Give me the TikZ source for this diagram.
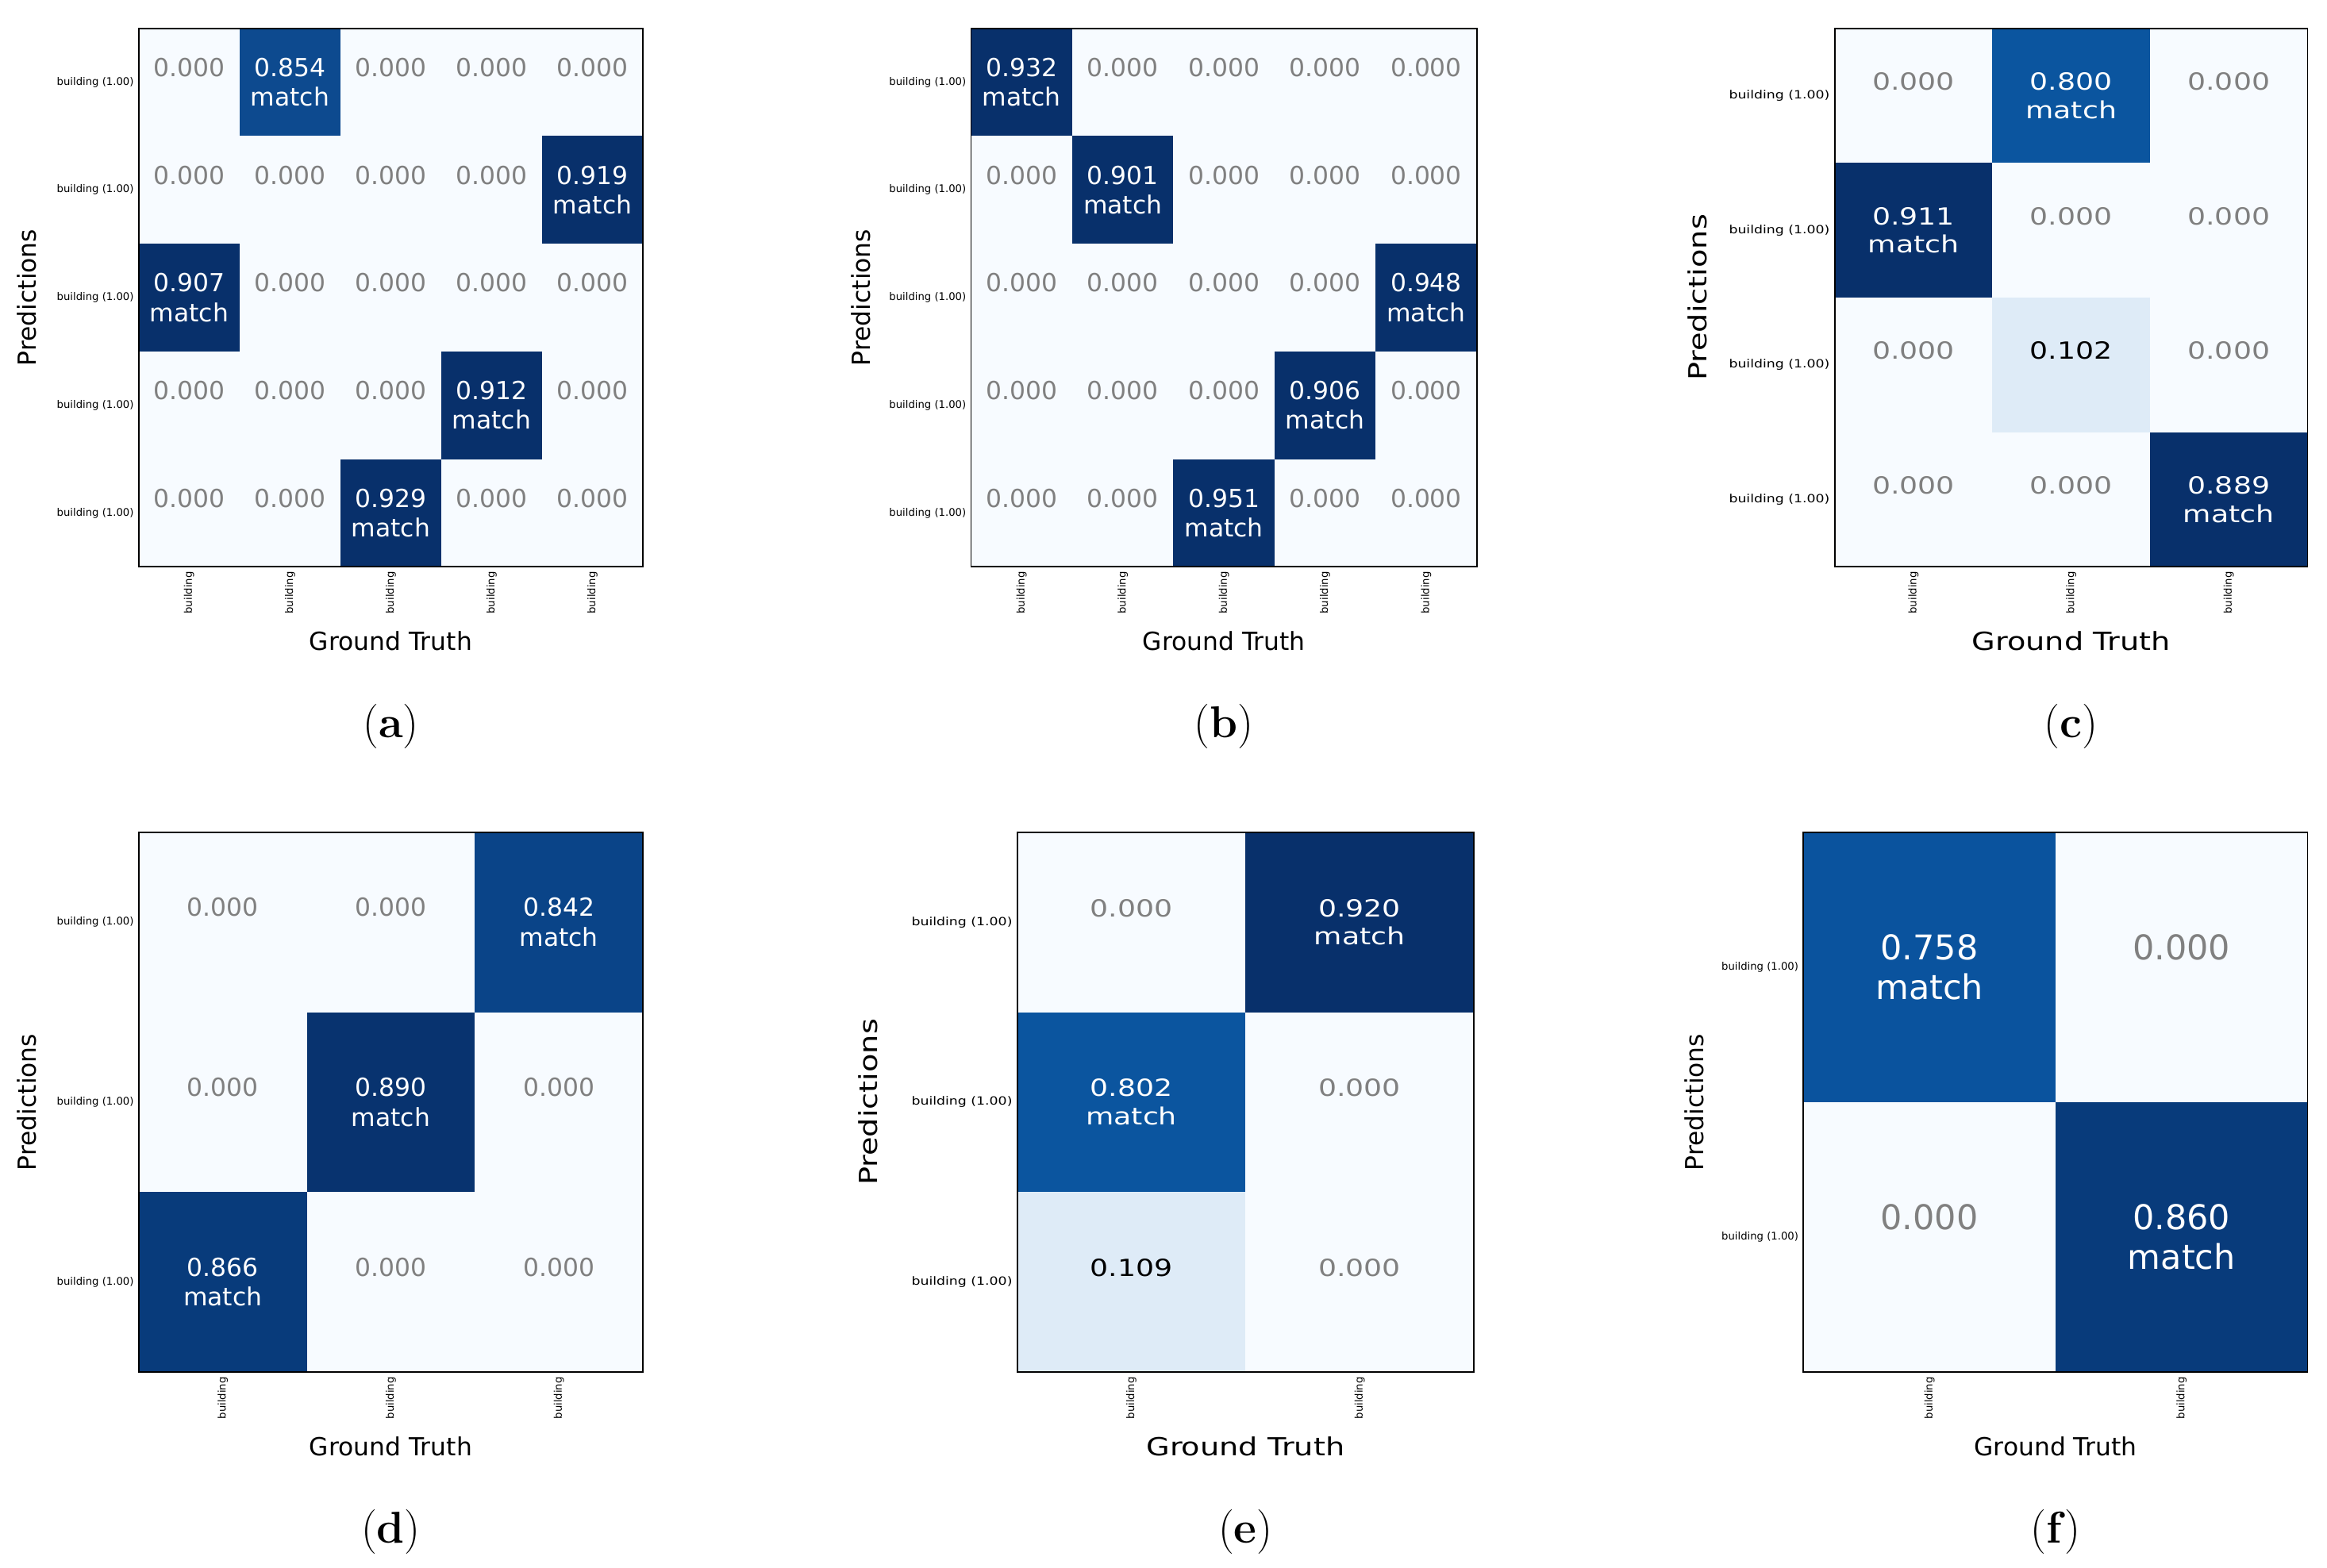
\documentclass[tikz,border=0pt]{standalone}
\usepackage{fontspec}
\newfontfamily\mpl{DejaVu Sans}
\newfontfamily\mplw{DejaVu Sans}[FakeStretch=1.22]
\usetikzlibrary{arrows.meta}
\definecolor{c0}{HTML}{F7FBFF}
\definecolor{cL}{HTML}{DEEBF7}
\definecolor{c76}{HTML}{0A539E}
\definecolor{c80}{HTML}{0B559F}
\definecolor{c84}{HTML}{0A4488}
\definecolor{c85}{HTML}{0D4A8F}
\definecolor{c86}{HTML}{083B7B}
\definecolor{c89}{HTML}{08336F}
\definecolor{c9}{HTML}{08306B}
\definecolor{zgray}{HTML}{808080}

% panel: x0 y0 x1 y1 ncols nrows
\newcommand\setpanel[7]{%
  \pgfmathsetmacro\cw{(#4-#2)/#6}%
  \pgfmathsetmacro\ch{(#5-#3)/#7}%
  \def\px{#2}\def\py{#3}\def\qx{#4}\def\qy{#5}\def\nc{#6}\def\nr{#7}%
  \fill[c0] (#2,#3) rectangle (#4,#5);
  \foreach \i in {1,...,#6}{\foreach \j in {1,...,#7}{
    \node[cell, text=zgray] (#1-\i-\j) at ({#2+(\i-0.5)*\cw},{#3+(\j-0.5)*\ch}) {0.000\\\phantom{match}};}}
}
% cell: panel col row fill textcolor text
\newcommand\mcell[6]{%
  \fill[#4] ({\px+(#2-1)*\cw},{\py+(#3-1)*\ch}) rectangle ({\px+#2*\cw},{\py+#3*\ch});
  \node[cell, text=#5] (#1-m#2-#3) at ({\px+(#2-0.5)*\cw},{\py+(#3-0.5)*\ch}) {#6};
}
% finish: panel predoffset caption
\newcommand\finishpanel[3]{%
  \draw[line width=0.5pt] (\px,\py) rectangle (\qx,\qy);
  \foreach \i in {1,...,\nc}
    \node[xtick] (#1-x\i) at ({\px+(\i-0.5)*\cw},\qy+3) {building};
  \foreach \j in {1,...,\nr}
    \node[ytick] (#1-y\j) at (\px-3,{\py+(\j-0.5)*\ch}) {building (1.00)};
  \node[axlab] (#1-gt) at ({(\px+\qx)/2},\qy+50) {Ground Truth};
  \node[axlab, rotate=90] (#1-pr) at (\px-#2,{(\py+\qy)/2}) {Predictions};
  \node[caption] (#1-cap) at ({(\px+\qx)/2},{\qy+107}) {(\textbf{#3})};
}

\begin{document}
\begin{tikzpicture}[x=0.02cm, y=-0.02cm,
    cell/.style={align=center, inner sep=0pt, font=\mpl\fontsize{9.5}{11.3}\selectfont},
    xtick/.style={rotate=90, anchor=east, inner sep=0pt, font=\mpl\fontsize{4}{5}\selectfont},
    ytick/.style={anchor=east, inner sep=0pt, font=\mpl\fontsize{4}{5}\selectfont},
    axlab/.style={inner sep=0pt, font=\mpl\fontsize{9.5}{11}\selectfont},
    caption/.style={inner sep=0pt, font=\fontsize{17}{20}\selectfont}]
  \useasboundingbox[fill=white] (0,0) rectangle (1560,1051);

  % (a)
  \setpanel{a}{93}{19}{431}{380}{5}{5}
  \mcell{a}{2}{1}{c85}{white}{0.854\\match}
  \mcell{a}{5}{2}{c9}{white}{0.919\\match}
  \mcell{a}{1}{3}{c9}{white}{0.907\\match}
  \mcell{a}{4}{4}{c9}{white}{0.912\\match}
  \mcell{a}{3}{5}{c9}{white}{0.929\\match}
  \finishpanel{a}{75}{a}

  % (b)
  \setpanel{b}{651}{19}{990}{380}{5}{5}
  \mcell{b}{1}{1}{c9}{white}{0.932\\match}
  \mcell{b}{2}{2}{c9}{white}{0.901\\match}
  \mcell{b}{5}{3}{c9}{white}{0.948\\match}
  \mcell{b}{4}{4}{c9}{white}{0.906\\match}
  \mcell{b}{3}{5}{c9}{white}{0.951\\match}
  \finishpanel{b}{74}{b}

  % (c)
  \begin{scope}[cell/.append style={font=\mplw\fontsize{9}{10.8}\selectfont},
      axlab/.append style={font=\mplw\fontsize{9.5}{11}\selectfont},
      ytick/.append style={font=\mplw\fontsize{4.3}{5}\selectfont}]
    \setpanel{c}{1230}{19}{1547}{380}{3}{4}
    \mcell{c}{2}{1}{c80}{white}{0.800\\match}
    \mcell{c}{1}{2}{c9}{white}{0.911\\match}
    \mcell{c}{2}{3}{cL}{black}{0.102\\\phantom{match}}
    \mcell{c}{3}{4}{c9}{white}{0.889\\match}
    \finishpanel{c}{92}{c}
  \end{scope}

  % (d)
  \setpanel{d}{93}{558}{431}{920}{3}{3}
  \mcell{d}{3}{1}{c84}{white}{0.842\\match}
  \mcell{d}{2}{2}{c89}{white}{0.890\\match}
  \mcell{d}{1}{3}{c86}{white}{0.866\\match}
  \finishpanel{d}{75}{d}

  % (e)
  \begin{scope}[cell/.append style={font=\mplw\fontsize{9}{10.8}\selectfont},
      axlab/.append style={font=\mplw\fontsize{9.5}{11}\selectfont},
      ytick/.append style={font=\mplw\fontsize{4.3}{5}\selectfont}]
    \setpanel{e}{682}{558}{988}{920}{2}{3}
    \mcell{e}{2}{1}{c9}{white}{0.920\\match}
    \mcell{e}{1}{2}{c80}{white}{0.802\\match}
    \mcell{e}{1}{3}{cL}{black}{0.109\\\phantom{match}}
    \finishpanel{e}{100}{e}
  \end{scope}

  % (f)
  \begin{scope}[cell/.append style={font=\mpl\fontsize{13}{15.3}\selectfont}]
    \setpanel{f}{1209}{558}{1547}{920}{2}{2}
    \mcell{f}{1}{1}{c76}{white}{0.758\\match}
    \mcell{f}{2}{2}{c86}{white}{0.860\\match}
    \finishpanel{f}{73}{f}
  \end{scope}
\end{tikzpicture}
\end{document}
